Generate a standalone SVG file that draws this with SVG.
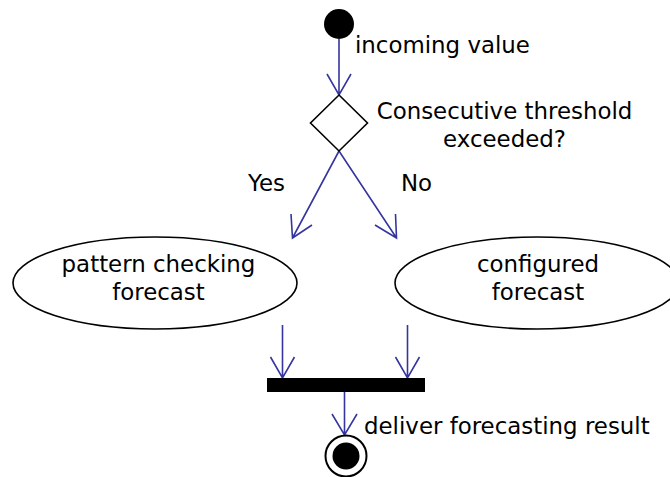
<svg xmlns="http://www.w3.org/2000/svg" width="670" height="477" viewBox="0 0 670 477">
  <style>
    text { font-family: "DejaVu Sans", "Liberation Sans", sans-serif; font-size: 22.9px; fill: #000; }
    .mid { text-anchor: middle; }
    .edge { stroke: #3535a0; stroke-width: 1.6; fill: none; }
    .shape { stroke: #000; stroke-width: 1.6; fill: #fff; }
  </style>
  <rect width="670" height="477" fill="#fff"/>

  <!-- connectors with open V arrowheads -->
  <g id="connectors">
    <path class="edge" d="M339,39 L339,95 M327,74 L339,95 L351,74"/>
    <path class="edge" d="M339,151 L292.5,238 M291,214 L292.5,238 L312,225"/>
    <path class="edge" d="M339,151 L396.5,238 M395.5,214 L396.5,238 L375,225"/>
    <path class="edge" d="M282.5,325 L282.5,378 M270.5,357 L282.5,378 L294.5,357"/>
    <path class="edge" d="M407.5,325 L407.5,378 M395.5,357 L407.5,378 L419.5,357"/>
    <path class="edge" d="M344.5,390 L344.5,435 M332,414 L344.5,435 L357,414"/>
    <text x="248" y="191">Yes</text>
    <text x="401" y="191">No</text>
  </g>

  <g id="start">
    <circle cx="339" cy="24" r="15" fill="#000"/>
    <text x="355" y="53">incoming value</text>
  </g>

  <g id="decision">
    <polygon class="shape" points="339,95 367.5,123 339,151 310.5,123"/>
    <text class="mid" x="504.5" y="119">Consecutive threshold</text>
    <text class="mid" x="504.5" y="147">exceeded?</text>
  </g>

  <g id="patternForecast">
    <ellipse class="shape" cx="155" cy="283" rx="142" ry="46"/>
    <text class="mid" x="158.5" y="272">pattern checking</text>
    <text class="mid" x="158.5" y="300">forecast</text>
  </g>

  <g id="configuredForecast">
    <ellipse class="shape" cx="537" cy="283" rx="142" ry="46"/>
    <text class="mid" x="538" y="272">configured</text>
    <text class="mid" x="538" y="300">forecast</text>
  </g>

  <g id="join">
    <rect x="267" y="378" width="158" height="14" fill="#000"/>
  </g>

  <g id="end">
    <circle cx="346" cy="456" r="20.5" fill="#fff" stroke="#000" stroke-width="2"/>
    <circle cx="346" cy="456" r="13.5" fill="#000"/>
    <text x="364" y="434">deliver forecasting result</text>
  </g>
</svg>
